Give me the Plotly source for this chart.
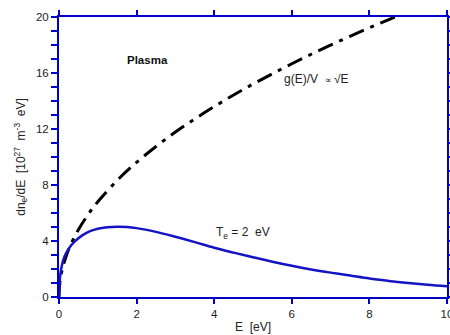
import plotly.graph_objects as go

# Density-of-states curve g(E)/V ~ sqrt(E)
E_dos = [0, 0.02, 0.05, 0.1, 0.2, 0.3, 0.5, 0.75, 1, 1.5, 2, 2.5, 3, 3.5, 4, 4.5,
         5, 5.5, 6, 6.5, 7, 7.5, 8, 8.5, 9]
g_dos = [0, 0.96, 1.52, 2.15, 3.04, 3.72, 4.81, 5.89, 6.8, 8.33, 9.62, 10.75, 11.78,
         12.72, 13.6, 14.43, 15.21, 15.95, 16.66, 17.34, 17.99, 18.62, 19.23, 19.82, 20.4]

# Electron energy distribution, Te = 2 eV
E_dist = [0, 0.02, 0.05, 0.1, 0.15, 0.25, 0.4, 0.6, 0.8, 1.0, 1.25, 1.5, 1.75, 2.0,
          2.5, 3.0, 3.5, 4.0, 4.5, 5.0, 5.5, 6.0, 6.5, 7.0, 7.5, 8.0, 8.5, 9.0, 9.5, 10.0]
n_dist = [0, 1.2, 1.9, 2.55, 2.95, 3.45, 3.95, 4.4, 4.7, 4.88, 4.98, 5.02, 5.0, 4.92,
          4.65, 4.3, 3.92, 3.52, 3.17, 2.84, 2.52, 2.23, 1.97, 1.74, 1.53, 1.32, 1.15,
          1.0, 0.87, 0.76]

x_ticks = [0, 2, 4, 6, 8, 10]
y_ticks = [0, 4, 8, 12, 16, 20]

AX = "#0000C8"
BLUE = "#1414C4"
FONT = "Liberation Sans, Arial, sans-serif"

fig = go.Figure()
fig.add_trace(go.Scatter(x=E_dos, y=g_dos, mode="lines",
                         line=dict(color="black", width=3, dash="16px,7px,4px,7px"),
                         line_shape="spline", showlegend=False))
fig.add_trace(go.Scatter(x=E_dist, y=n_dist, mode="lines",
                         line=dict(color=BLUE, width=2.5), line_shape="spline",
                         showlegend=False))

fig.add_annotation(x=2.29, y=16.9, text="<b>Plasma</b>", showarrow=False,
                   font=dict(size=11.5, color="#111", family=FONT))
fig.add_annotation(x=5.75, y=15.6, text="g(E)/V  <span style='font-size:9px'>\u221d</span> \u221aE",
                   showarrow=False, xanchor="left",
                   font=dict(size=12, color="#222", family=FONT))
fig.add_annotation(x=4.0, y=4.55, text="T<sub>e</sub> = 2  eV", showarrow=False,
                   xanchor="left", font=dict(size=12, color="#222", family=FONT))

fig.update_layout(
    width=450, height=335,
    margin=dict(l=59, r=3, t=17, b=38, autoexpand=False),
    paper_bgcolor="white", plot_bgcolor="white",
    font=dict(family=FONT, size=11.5, color="#222"),
)
fig.update_xaxes(range=[0, 10], tickvals=x_ticks, ticktext=[str(v) for v in x_ticks],
                 showgrid=False, zeroline=False, showline=True, linecolor=AX, linewidth=2,
                 mirror="allticks", ticks="outside", tickcolor=AX, ticklen=5, tickwidth=2,
                 automargin=False, ticklabeloverflow="allow",
                 title=dict(text="E  [eV]", standoff=4, font=dict(size=12)))
fig.update_yaxes(range=[0, 20], tickvals=y_ticks, ticktext=[str(v) for v in y_ticks],
                 showgrid=False, zeroline=False, showline=True, linecolor=AX, linewidth=2,
                 mirror="allticks", ticks="outside", tickcolor=AX, ticklen=6, tickwidth=2,
                 automargin=False, ticklabeloverflow="allow",
                 minor=dict(dtick=1, ticks="outside", ticklen=6, tickcolor=AX, tickwidth=2,
                            showgrid=False),
                 title=dict(text="dn<sub>e</sub>/dE  [10<sup>27</sup>  m<sup>-3</sup>  eV]",
                            standoff=8, font=dict(size=12)))

fig.write_html("out.html")
